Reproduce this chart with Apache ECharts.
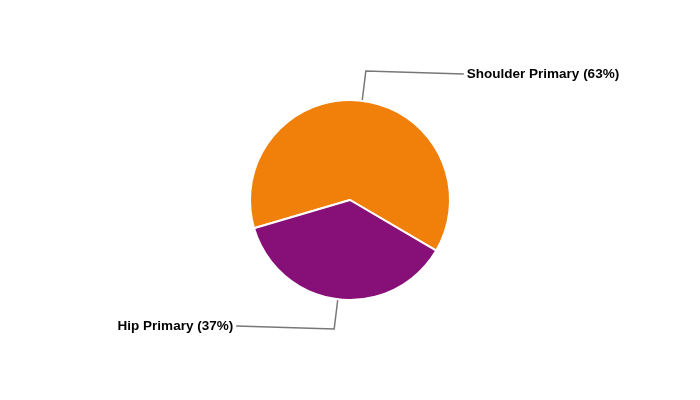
<!DOCTYPE html>
<html>
<head>
<meta charset="utf-8">
<script src="https://cdn.jsdelivr.net/npm/echarts@6/dist/echarts.min.js"></script>
<style>html,body{margin:0;padding:0;background:#fff}#c{width:700px;height:400px}</style>
</head>
<body>
<div id="c"></div>
<script>
const categories = ["Shoulder Primary", "Hip Primary"];
const values = [63, 37];
const colors = ["#F0800A", "#871078"];

const chart = echarts.init(document.getElementById('c'), null, {renderer: 'canvas'});
chart.setOption({
  animation: false,
  backgroundColor: '#ffffff',
  series: [{
    type: 'pie',
    center: [350, 200],
    radius: [0, 100],
    startAngle: 196.4,
    clockwise: true,
    avoidLabelOverlap: false,
    data: categories.map((c, i) => ({name: c, value: values[i], itemStyle: {color: colors[i]}})),
    itemStyle: {borderColor: '#ffffff', borderWidth: 2},
    label: {
      show: true,
      formatter: p => p.name + ' (' + p.value + '%)',
      fontFamily: 'Liberation Sans, Arial, sans-serif',
      fontWeight: 'bold',
      fontSize: 13.5,
      color: '#000000',
      distanceToLabelLine: 3
    },
    labelLayout: p => {
      const dy = p.dataIndex === 0 ? 3 : -3;
      const out = {dy: dy};
      if (p.labelLinePoints) {
        const pts = p.labelLinePoints.map(q => [q[0], q[1]]);
        pts[pts.length - 1][1] += dy;
        out.labelLinePoints = pts;
      }
      return out;
    },
    labelLine: {
      show: true,
      length: 30,
      length2: 98,
      lineStyle: {color: '#777777', width: 1.5}
    },
    emphasis: {disabled: true}
  }]
});
</script>
</body>
</html>
